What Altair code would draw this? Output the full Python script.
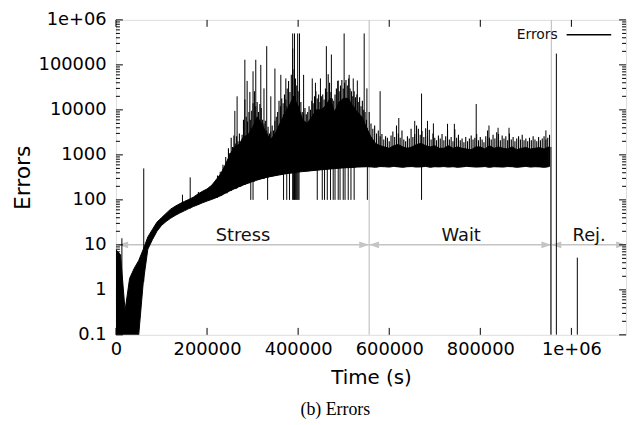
import altair as alt
import pandas as pd

# ---------------- data ----------------
band_step = 10000  # seconds per bin of the dense error band (solid core)
band_low = [0.1, 0.1, 0.1, 0.1, 0.1, 0.1,
            1.5, 8, 13, 20, 27, 33, 39, 45, 51, 57,
            64, 71, 78, 86, 94, 102, 112, 124, 140, 158,
            176, 195, 215, 235, 255, 275, 295, 315, 330, 345,
            360, 375, 390, 400, 415, 425, 435, 445, 455, 465,
            475, 485, 495, 505, 515, 520, 525, 535, 540, 545,
            540, 530, 550, 545, 535, 555, 540, 530, 545, 550,
            535, 540, 555, 530, 545, 540, 550, 535, 545, 530,
            540, 555, 545, 535, 540, 550, 530, 545, 540, 535,
            550, 545, 530, 540, 555, 535, 545, 540, 530, 545]
band_high = [7.8, 6, 0.35, 1.8, 3, 4.5,
             8, 15, 22, 32, 40, 50, 62, 72, 82, 92,
             102, 115, 135, 155, 175, 210, 280, 380, 600, 1000,
             1500, 1700, 2500, 2800, 4000, 7000, 5000, 3000, 2200, 3000,
             5000, 8000, 12000, 20000, 12000, 6000, 5000, 7000, 10000, 10000,
             12000, 18000, 9000, 15000, 18000, 18000, 12000, 9000, 7000, 4000,
             2500, 1800, 1600, 1500, 1400, 1600, 1700, 1500, 1400, 1500,
             1700, 1800, 1600, 1500, 1600, 1400, 1400, 1600, 1400, 1500,
             1400, 1350, 1300, 1500, 1500, 1350, 1600, 1400, 1500, 1400,
             1350, 1500, 1300, 1400, 1450, 1350, 1400, 1450, 1350, 1500]

# jagged upper fringe of the dense trace (one value every fringe step)
stress_fringe_start, stress_fringe_step = 220000, 3000
stress_fringe = [280, 350, 300, 420, 380, 600, 520, 900, 700, 1400,
                 1100, 2400, 1500, 2700, 1800, 2600, 2000, 3000, 1900, 2800,
                 6000, 17000, 7000, 5500, 9000, 6000, 9500, 14000, 26000, 12000,
                 15000, 9000, 13500, 11000, 6000, 5000, 5700, 3500, 4200, 3000,
                 3300, 4500, 3500, 5700, 7000, 9000, 16000, 12000, 18000, 14000,
                 22000, 17000, 30000, 44000, 25000, 60000, 230000, 80000, 50000, 35000,
                 26000, 30000, 15000, 9000, 8300, 11000, 8000, 9000, 12000, 10000,
                 16000, 14000, 20000, 26000, 18000, 22000, 15000, 20000, 22000, 17000,
                 30000, 25000, 62000, 40000, 25000, 18000, 16000, 22000, 30000, 44000,
                 26000, 35000, 46000, 30000, 40000, 46000, 35000, 50000, 30000, 26000,
                 20000, 26000, 19000, 22000, 15000, 19000, 12000, 16000, 10000, 9000,
                 6000, 3500]
wait_fringe_start, wait_fringe_step = 556000, 4000
wait_fringe = [9000, 5000, 3800, 4500, 3000, 3500, 2600, 2900, 2200, 2600,
               2400, 2000, 2700, 3300, 2500, 4500, 3000, 2400, 3500, 2200,
               2000, 2600, 2300, 3800, 2500, 2900, 4500, 3800, 2800, 3400,
               2500, 3900, 2600, 3600, 2200, 3000, 2400, 2100, 2700, 2300,
               2900, 2100, 2600, 3600, 2200, 2500, 2000, 3700, 2400, 2800,
               2100, 2300, 1900, 2500, 2000, 2300, 2700, 2200, 2400, 2900,
               2100, 2500, 2200, 1900, 2600, 3500, 2400, 2200, 2800, 2300,
               3200, 2900, 2100, 2700, 2300, 2600, 2100, 3000, 2200, 2500,
               2000, 2300, 2600, 2200, 2800, 2100, 2300, 2000, 2400, 2100,
               2600, 2200, 2000, 2500, 2100, 2300, 2600, 2200, 2400, 2800]

spike_time = [13000, 61000, 146000, 163000, 181000, 261000, 266000, 283000, 288000, 294000,
              301000, 307000, 318000, 325000, 331000, 340000, 349000, 362000, 373000, 388000,
              392000, 399000, 403000, 412000, 431000, 438000, 449000, 462000, 473000, 488000,
              501000, 512000, 521000, 530000, 545000, 551000, 580000, 621000, 656000, 671000,
              684000, 697000, 728000, 743000, 791000, 819000, 839000, 863000, 944000, 967000,
              1013000]
spike_value = [14, 500, 130, 316, 150, 9500, 20000, 130000, 44000, 25000,
               72000, 130000, 100000, 30000, 260000, 20000, 83000, 60000, 50000, 500000,
               500000, 500000, 500000, 60000, 50000, 40000, 50000, 260000, 170000, 45000,
               500000, 60000, 50000, 45000, 500000, 30000, 26000, 6600, 5700, 23000,
               5700, 5000, 4900, 4900, 13500, 4500, 4000, 4000, 3500, 178000,
               5.2]

dip_time = [296000, 301000, 333000, 368000, 375000, 381000, 388000, 390000, 392000, 394000,
            396000, 398000, 400000, 402000, 442000, 453000, 458000, 464000, 471000, 477000,
            481000, 488000, 492000, 499000, 503000, 510000, 516000, 523000, 552000, 671000,
            955000]
dip_value = [100, 100, 100, 100, 100, 100, 100, 100, 100, 100,
             100, 100, 100, 100, 100, 100, 100, 100, 100, 100,
             100, 100, 100, 100, 100, 100, 100, 100, 100, 100,
             0.1]

phase_bounds = [556000, 956000]
arrow_start = [5000, 556000, 956000]
arrow_end = [556000, 956000, 1120000]
arrow_level = 10
phase_labels = ["Stress", "Wait", "Rej."]
phase_label_time = [279000, 758000, 1039000]

x_ticks = [0, 200000, 400000, 600000, 800000, 1000000]
y_ticks = [0.1, 1, 10, 100, 1000, 10000, 100000, 1000000]
y_minor_factors = [2, 3, 4, 5, 6, 7, 8, 9]
X_MAX = 1120000
Y_MIN, Y_MAX = 0.1, 1000000

# ---------------- tables ----------------
W, H = 515, 318
FONT = "DejaVu Sans"

n = len(band_low)
band_time = [k * band_step for k in range(n)]
band_df = pd.DataFrame({"t": band_time, "lo": band_low, "hi": band_high})


def bin_idx(t):
    return min(int(round(t / band_step)), n - 1)


fringe_time = ([stress_fringe_start + i * stress_fringe_step for i in range(len(stress_fringe))]
               + [wait_fringe_start + i * wait_fringe_step for i in range(len(wait_fringe))])
fringe_value = stress_fringe + wait_fringe
fringe_df = pd.DataFrame({"t": fringe_time,
                          "lo": [band_low[bin_idx(t)] for t in fringe_time],
                          "hi": fringe_value})

spike_base = [band_low[bin_idx(t)] if t < 957000 else Y_MIN for t in spike_time]
spike_df = pd.DataFrame({"t": spike_time, "lo": spike_base, "hi": spike_value})
dip_top = [band_high[bin_idx(t)] for t in dip_time]
dip_df = pd.DataFrame({"t": dip_time, "lo": dip_value, "hi": dip_top})

bound_df = pd.DataFrame({"t": phase_bounds, "lo": [Y_MIN] * len(phase_bounds), "hi": [Y_MAX] * len(phase_bounds)})
arrow_df = pd.DataFrame({"t": arrow_start, "t2": arrow_end, "lo": [arrow_level] * 3})
head_left_df = pd.DataFrame({"t": arrow_start, "lo": [arrow_level] * 3})
head_right_df = pd.DataFrame({"t": arrow_end, "lo": [arrow_level] * 3})
label_df = pd.DataFrame({"t": phase_label_time, "lo": [arrow_level] * 3, "label": phase_labels})

xt_df = pd.DataFrame({"t": x_ticks})
yt_df = pd.DataFrame({"lo": y_ticks})
ym_df = pd.DataFrame({"lo": [d * f for d in y_ticks[:-1] for f in y_minor_factors]})

xs = alt.Scale(domain=[0, X_MAX], nice=False, zero=False)
ys = alt.Scale(type="log", domain=[Y_MIN, Y_MAX], nice=False)

x_axis = alt.Axis(values=x_ticks,
                  labelExpr="datum.value == 1000000 ? '1e+06' : toString(datum.value)",
                  ticks=False, domain=False, grid=False, labelFlush=False,
                  labelFont=FONT, labelFontSize=18, labelColor="black", labelPadding=6,
                  titleFont=FONT, titleFontSize=20, titleFontWeight="normal",
                  titleColor="black", titlePadding=9)
y_axis = alt.Axis(values=y_ticks,
                  labelExpr="datum.value >= 1000000 ? '1e+06' : toString(datum.value)",
                  ticks=False, domain=False, grid=False, labelFlush=False,
                  labelFont=FONT, labelFontSize=18, labelColor="black", labelPadding=10,
                  titleFont=FONT, titleFontSize=22, titleFontWeight="normal",
                  titleColor="black", titlePadding=4)


def X():
    return alt.X("t:Q", scale=xs, axis=x_axis, title="Time (s)")


def Y():
    return alt.Y("lo:Q", scale=ys, axis=y_axis, title="Errors")


GREY = "#c4c4c4"

bounds = alt.Chart(bound_df).mark_rule(color=GREY, strokeWidth=1.2).encode(
    x=X(), y=Y(), y2="hi:Q")

arrows = alt.Chart(arrow_df).mark_rule(color=GREY, strokeWidth=1.5).encode(
    x=X(), x2="t2:Q", y=Y())

head_l = alt.Chart(head_left_df).mark_point(
    shape="M0,0L2,-0.7L2,0.7Z", filled=True, color=GREY, opacity=1, size=100, strokeWidth=0).encode(
    x=X(), y=Y())
head_r = alt.Chart(head_right_df).mark_point(
    shape="M0,0L-2,-0.7L-2,0.7Z", filled=True, color=GREY, opacity=1, size=100, strokeWidth=0).encode(
    x=X(), y=Y())

labels = alt.Chart(label_df).mark_text(
    font=FONT, fontSize=18, color="#111111", baseline="alphabetic", dy=-4).encode(
    x=X(), y=Y(), text="label:N")

band = alt.Chart(band_df).mark_area(color="black", opacity=1, clip=True,
                                    stroke="black", strokeWidth=1).encode(
    x=X(), y=Y(), y2="hi:Q")

fringe = alt.Chart(fringe_df).mark_rule(color="black", strokeWidth=1.1, clip=True).encode(
    x=X(), y=Y(), y2="hi:Q")

spikes = alt.Chart(spike_df).mark_rule(color="black", strokeWidth=1, clip=True).encode(
    x=X(), y=Y(), y2="hi:Q")

dips = alt.Chart(dip_df).mark_rule(color="black", strokeWidth=1, clip=True).encode(
    x=X(), y=Y(), y2="hi:Q")

MAJ, MIN_ = 7, 4
tick_layers = [
    alt.Chart(xt_df).mark_rule(color="black").encode(
        x=X(), y=alt.value(H), y2=alt.value(H - MAJ)),
    alt.Chart(xt_df).mark_rule(color="black").encode(
        x=X(), y=alt.value(0), y2=alt.value(MAJ)),
    alt.Chart(yt_df).mark_rule(color="black").encode(
        y=Y(), x=alt.value(0), x2=alt.value(MAJ)),
    alt.Chart(yt_df).mark_rule(color="black").encode(
        y=Y(), x=alt.value(W), x2=alt.value(W - MAJ)),
    alt.Chart(ym_df).mark_rule(color="black").encode(
        y=Y(), x=alt.value(0), x2=alt.value(MIN_)),
    alt.Chart(ym_df).mark_rule(color="black").encode(
        y=Y(), x=alt.value(W), x2=alt.value(W - MIN_)),
]

legend_text = alt.Chart(pd.DataFrame({"label": ["Errors"]})).mark_text(
    font=FONT, fontSize=14, color="#111111", align="right", baseline="middle").encode(
    x=alt.value(446), y=alt.value(15), text="label:N")
legend_line = alt.Chart(pd.DataFrame({"label": ["Errors"]})).mark_rule(
    color="black", strokeWidth=1.3).encode(
    x=alt.value(455), x2=alt.value(500), y=alt.value(15))

chart = alt.layer(
    bounds, arrows, head_l, head_r, labels, band, fringe, spikes, dips,
    *tick_layers, legend_text, legend_line
).properties(
    width=W, height=H,
    autosize="none",
    padding={"left": 109, "top": 10, "right": 5, "bottom": 86},
    title=alt.TitleParams("(b) Errors", orient="bottom", font="Liberation Serif",
                          fontSize=18, fontWeight="normal", color="black",
                          anchor="middle", offset=14, dx=-36),
).configure_view(stroke="black", strokeWidth=1).configure(background="white")

chart.save("out.html", embed_options={"renderer": "svg", "actions": False})
